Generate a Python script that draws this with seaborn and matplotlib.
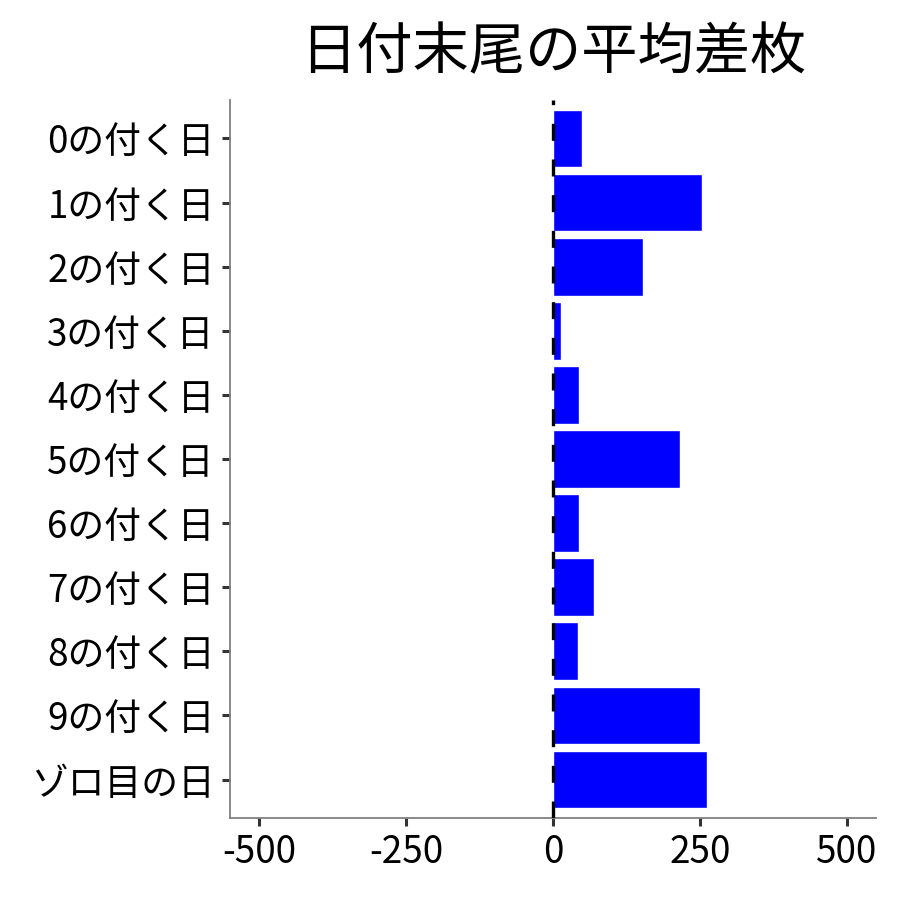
import matplotlib
matplotlib.use("Agg")
import matplotlib.pyplot as plt
import seaborn as sns
import pandas as pd

# data
labels = ["0の付く日", "1の付く日", "2の付く日", "3の付く日", "4の付く日",
          "5の付く日", "6の付く日", "7の付く日", "8の付く日", "9の付く日", "ゾロ目の日"]
avg_diff = [50, 254, 154, 13, 45, 217, 45, 70, 43, 251, 263]
x_ticks = [-500, -250, 0, 250, 500]

sns.set_theme(style="white")
plt.rcParams["font.family"] = ["Noto Sans CJK JP", "DejaVu Sans"]

df = pd.DataFrame({"label": labels, "diff": avg_diff})

fig = plt.figure(figsize=(9, 9), dpi=100)
ax = fig.add_axes([0.2556, 0.0911, 0.7177, 0.7978])

sns.barplot(data=df, x="diff", y="label", order=labels, orient="h",
            color="#0000ff", saturation=1, width=0.9, ax=ax, zorder=2)
ax.axvline(0, color="black", lw=2.4, ls=(0, (5.1, 5.6)), zorder=3)

ax.set_xlim(-550, 550)
ax.set_ylim(len(labels) - 0.4, -0.6)
ax.set_xticks(x_ticks)
ax.set_xticklabels([str(t) for t in x_ticks])
ax.set_xlabel("")
ax.set_ylabel("")
ax.set_title("日付末尾の平均差枚", fontsize=40.5, pad=22, color="black")

for side in ["top", "right"]:
    ax.spines[side].set_visible(False)
for side in ["left", "bottom"]:
    ax.spines[side].set_color("#808080")
    ax.spines[side].set_linewidth(1.3)

ax.tick_params(axis="both", labelsize=26.5, colors="#333333", labelcolor="black",
               length=6, width=2.2, pad=5, bottom=True, left=True)
ax.grid(False)

fig.savefig("out.png", dpi=100)
plt.close(fig)
